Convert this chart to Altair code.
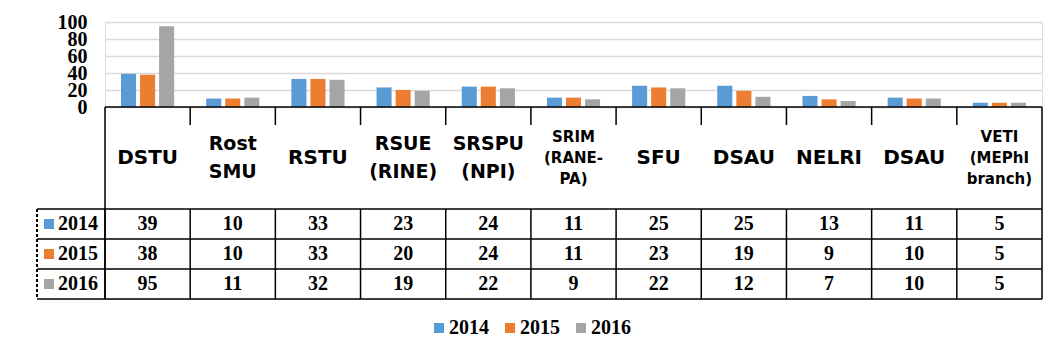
import altair as alt
import pandas as pd

CATEGORIES = ["DSTU", "Rost\nSMU", "RSTU", "RSUE\n(RINE)", "SRSPU\n(NPI)",
              "SRIM\n(RANE-\nPA)", "SFU", "DSAU", "NELRI", "DSAU",
              "VETI\n(MEPhI\nbranch)"]
YEARS = ["2014", "2015", "2016"]
V2014 = [39, 10, 33, 23, 24, 11, 25, 25, 13, 11, 5]
V2015 = [38, 10, 33, 20, 24, 11, 23, 19, 9, 10, 5]
V2016 = [95, 11, 32, 19, 22, 9, 22, 12, 7, 10, 5]
COLORS = ["#5B9BD5", "#ED7D31", "#A5A5A5"]
Y_TICKS = [0, 20, 40, 60, 80, 100]

# layout (plot-area pixels)
W, H = 937, 277
BAR_H = 85
HEADER_BOTTOM = 187
ROW_LINES = [187, 217, 247, 277]
LABEL_COL = -68
HEADER_MID = 136

SERIF = "Liberation Serif"
SANS = "DejaVu Sans"

cat_df = pd.DataFrame({"idx": list(range(len(CATEGORIES))), "label": CATEGORIES})
cat_df["lines"] = cat_df["label"].str.count("\n") + 1
rows = []
for y, vals in zip(YEARS, [V2014, V2015, V2016]):
    for i, v in enumerate(vals):
        rows.append({"idx": i, "year": y, "value": v})
long = pd.DataFrame(rows)
yr_df = pd.DataFrame({"year": YEARS})
one = pd.DataFrame({"k": [0]})

XSCALE = alt.Scale(paddingInner=0, paddingOuter=0)
X = alt.X("idx:O", scale=XSCALE, axis=None)
ROWY = alt.Y("year:N", scale=alt.Scale(type="point", domain=YEARS, range=[202, 262], padding=0), axis=None)
COLOR = alt.Color(
    "year:N",
    scale=alt.Scale(domain=YEARS, range=COLORS),
    legend=alt.Legend(title=None, orient="none", legendX=324, legendY=296,
                      direction="horizontal", symbolType="square", symbolSize=100,
                      symbolStrokeWidth=0, labelFont=SERIF, labelFontSize=20,
                      labelFontWeight="bold", labelColor="black",
                      columnPadding=11, labelOffset=0),
)

bars = alt.Chart(long).mark_bar().encode(
    x=X,
    xOffset=alt.XOffset("year:N", sort=YEARS, scale=alt.Scale(paddingInner=0.21, paddingOuter=0.84)),
    y=alt.Y("value:Q",
            scale=alt.Scale(domain=[0, 100], range=[BAR_H, 0], nice=False),
            axis=alt.Axis(title=None, values=Y_TICKS, domain=False, ticks=False,
                          grid=True, gridColor="#D9D9D9", gridWidth=1.5,
                          labelFont=SERIF, labelFontWeight="bold", labelFontSize=20,
                          labelColor="black", labelPadding=18, labelOverlap=False,
                          labelBound=False)),
    color=COLOR,
)

values_text = alt.Chart(long).mark_text(
    font=SERIF, fontWeight="bold", fontSize=20, baseline="middle", color="black"
).encode(x=X, y=ROWY, text="value:Q")

row_labels = alt.Chart(yr_df).mark_text(
    font=SERIF, fontWeight="bold", fontSize=20, baseline="middle", align="left", color="black"
).encode(x=alt.value(-47), y=ROWY, text="year:N")

row_squares = alt.Chart(yr_df).mark_square(size=100, opacity=1).encode(
    x=alt.value(-56), y=ROWY, color=COLOR
)


def header(n, size, lh):
    return alt.Chart(cat_df).transform_filter(f"datum.lines == {n}").mark_text(
        font=SANS, fontWeight="bold", fontSize=size, lineHeight=lh, lineBreak="\n",
        baseline="middle", color="black", dy=-(n - 1) * lh / 2
    ).encode(x=X, y=alt.value(HEADER_MID), text="label:N")


headers = [header(1, 20, 28), header(2, 19, 28), header(3, 15, 21)]


def rule(x, x2, y, y2, dash=None, width=1.5):
    kw = dict(color="black", strokeWidth=width)
    if dash:
        kw["strokeDash"] = dash
    return alt.Chart(one).mark_rule(**kw).encode(
        x=alt.value(x), x2=alt.value(x2), y=alt.value(y), y2=alt.value(y2))


v_rows = alt.Chart(cat_df).mark_rule(color="black", strokeWidth=1.5).encode(
    x=alt.X("idx:O", bandPosition=0, scale=XSCALE, axis=None),
    y=alt.value(HEADER_BOTTOM), y2=alt.value(H))
v_ticks = alt.Chart(cat_df).transform_filter("datum.idx > 0").mark_rule(
    color="black", strokeWidth=1.5).encode(
    x=alt.X("idx:O", bandPosition=0, scale=XSCALE, axis=None),
    y=alt.value(BAR_H), y2=alt.value(BAR_H + 18))

lines = [
    rule(0, W, BAR_H, BAR_H),
    rule(0, 0, BAR_H, H),
    rule(W, W, BAR_H, H),
    rule(LABEL_COL, LABEL_COL, HEADER_BOTTOM, H, dash=[3, 2], width=2),
] + [rule(LABEL_COL, W, y, y) for y in ROW_LINES]

chart = alt.layer(
    bars, *lines, v_rows, v_ticks, values_text, row_labels, row_squares, *headers
).resolve_scale(y="independent").properties(
    width=W, height=H,
    autosize=alt.AutoSizeParams(type="none"),
    padding={"left": 105, "top": 22, "right": 17, "bottom": 59},
).configure_view(stroke=None).configure(background="white")

chart.save("out.html", embed_options={"renderer": "svg", "actions": False})
